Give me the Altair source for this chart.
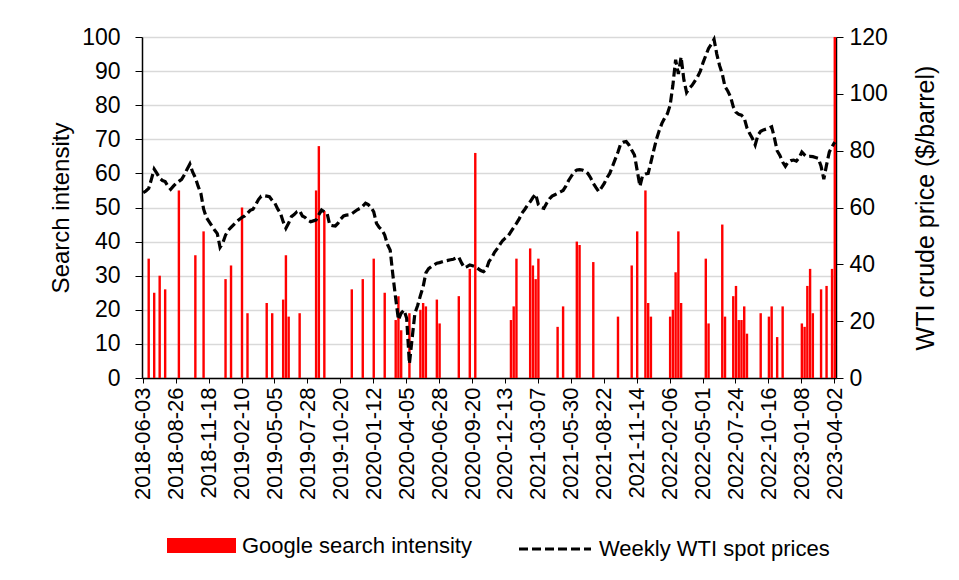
import altair as alt
import pandas as pd

# Weekly dates (Sunday-start weeks)
start_date = "2018-06-03"
n_weeks = 253

# Google search intensity: week offsets (from 2018-06-03) with non-zero values
search_week_idx = [2, 4, 6, 8, 13, 19, 22, 30, 32, 36, 38, 45, 47, 51, 52, 53, 57, 63, 64, 66,
                   76, 80, 84, 88, 92, 93, 94, 97, 101, 102, 103, 107, 108, 115, 119, 121,
                   134, 135, 136, 141, 142, 143, 144, 151, 153, 158, 159, 164, 173, 178, 180,
                   183, 184, 185, 192, 193, 194, 195, 196, 205, 206, 211, 212, 215, 216, 217,
                   218, 219, 220, 225, 228, 229, 231, 233, 240, 241, 242, 243, 244, 247, 249,
                   251, 252]
search_values = [35, 25, 30, 26, 55, 36, 43, 29, 33, 50, 19, 22, 19, 23, 36, 18, 19, 55, 68, 49,
                 26, 29, 35, 25, 17, 24, 14, 19, 20, 22, 21, 23, 16, 24, 32, 66,
                 17, 21, 35, 38, 33, 29, 35, 15, 21, 40, 39, 34, 18, 33, 43,
                 55, 22, 18, 18, 20, 31, 43, 22, 35, 16, 45, 18, 24, 27, 17,
                 17, 21, 13, 19, 18, 21, 12, 21, 16, 15, 27, 32, 19, 26, 27,
                 32, 100]

# Weekly WTI spot price ($/barrel)
wti_prices = [
    65.2, 65.8, 66.7, 70.0, 73.5, 72.0, 70.3, 69.5, 69.1, 67.5,
    66.4, 67.5, 68.5, 69.2, 69.9, 71.5, 73.5, 75.3, 72.5, 70.5,
    67.5, 65.0, 59.5, 56.5, 55.0, 53.5, 52.1, 50.8, 46.0, 47.5,
    50.3, 52.0, 53.0, 54.0, 55.0, 55.8, 56.5, 57.0, 58.0, 59.0,
    59.4, 61.0, 62.8, 64.0, 64.2, 64.0, 63.8, 62.5, 61.5, 59.5,
    58.0, 55.0, 52.7, 54.5, 56.8, 57.5, 58.5, 58.9, 57.0, 56.5,
    55.5, 55.0, 55.3, 55.6, 57.5, 59.1, 58.5, 58.0, 53.8, 53.6,
    53.5, 54.5, 56.0, 57.0, 57.3, 57.4, 57.8, 58.5, 59.2, 59.7,
    60.5, 61.5, 61.0, 60.0, 58.5, 54.4, 53.0, 52.1, 50.3, 47.0,
    45.0, 36.0, 28.0, 20.5, 22.8, 23.9, 21.0, 5.0, 14.0, 22.8,
    25.5, 29.0, 32.1, 37.0, 38.5, 39.2, 39.8, 40.4, 40.6, 40.9,
    41.2, 41.4, 41.6, 41.8, 42.2, 42.5, 40.5, 38.8, 39.2, 39.8,
    39.5, 39.2, 38.5, 37.8, 37.4, 38.2, 41.0, 42.3, 44.2, 45.5,
    47.0, 48.4, 49.3, 50.0, 51.5, 53.0, 54.4, 56.0, 58.0, 59.3,
    60.8, 62.0, 63.5, 64.7, 61.0, 60.0, 59.7, 61.5, 63.0, 64.0,
    64.5, 65.0, 65.5, 66.0, 67.5, 69.5, 71.0, 72.5, 73.2, 73.3,
    73.2, 72.8, 72.0, 70.5, 68.5, 67.0, 65.6, 67.0, 68.5, 70.5,
    72.0, 74.5, 77.0, 79.5, 82.5, 83.0, 83.2, 82.0, 80.2, 78.5,
    73.0, 67.5, 71.4, 71.8, 72.0, 76.0, 80.0, 84.0, 87.0, 89.6,
    91.5, 93.0, 96.0, 103.0, 112.0, 107.0, 113.0, 105.0, 100.5, 102.0,
    103.0, 104.5, 106.0, 108.0, 111.0, 113.5, 116.0, 117.5, 119.2, 114.0,
    110.0, 107.0, 102.5, 101.0, 99.0, 95.5, 93.5, 92.8, 92.5, 91.5,
    88.0, 86.0, 84.3, 82.0, 85.5, 86.8, 87.3, 87.6, 87.9, 88.4,
    84.5, 80.0, 78.3, 76.0, 74.5, 76.0, 76.5, 76.7, 76.3, 77.5,
    79.5, 78.5, 77.9, 78.0, 77.9, 77.6, 77.3, 74.5, 70.0, 75.0,
    79.5, 81.4, 83.0,
]

dates = pd.date_range(start_date, periods=n_weeks, freq="7D").strftime("%Y-%m-%d").tolist()
search_full = [0] * n_weeks
for i, v in zip(search_week_idx, search_values):
    search_full[i] = v

df = pd.DataFrame({
    "date": dates,
    "search": search_full,
    "wti": wti_prices,
    "s1": "Google search intensity",
    "s2": "Weekly WTI spot prices",
})

label_dates = dates[::12]
FONT = "Liberation Sans"
XLBL = 22
YLBL = 23
TTL = 24

x_enc = alt.X(
    "date:N",
    sort=None,
    scale=alt.Scale(domain=dates, paddingInner=0.12, paddingOuter=0),
    axis=alt.Axis(
        values=label_dates, labelAngle=270, title=None, labelFontSize=XLBL,
        labelColor="black", tickColor="black", domainColor="black",
        domainWidth=1.5, tickSize=5, labelPadding=4, grid=False,
    ),
)

bars = alt.Chart(df).mark_bar().encode(
    x=x_enc,
    y=alt.Y(
        "search:Q",
        scale=alt.Scale(domain=[0, 100], nice=False),
        axis=alt.Axis(
            values=list(range(0, 101, 10)), title="Search intensity",
            titleFontSize=TTL, titleFontWeight="normal", titleColor="black",
            labelFontSize=YLBL, labelColor="black", tickColor="black", tickSize=7,
            domainColor="black", domainWidth=1.5, labelPadding=15, titlePadding=8,
            grid=True, gridColor="#d9d9d9", gridWidth=1.5,
        ),
    ),
    color=alt.Color(
        "s1:N",
        scale=alt.Scale(domain=["Google search intensity"], range=["#ff0000"]),
        legend=alt.Legend(
            orient="none", legendX=25, legendY=474, title=None,
            symbolType="M-1,-0.22H1V0.22H-1Z", symbolSize=4761,
            symbolStrokeWidth=0, labelFontSize=XLBL, labelColor="black",
            labelOffset=6, labelLimit=0,
        ),
    ),
)

line = alt.Chart(df).mark_line(strokeWidth=3.2, strokeDash=[9, 4]).encode(
    x=x_enc,
    y=alt.Y(
        "wti:Q",
        scale=alt.Scale(domain=[0, 120], nice=False),
        axis=alt.Axis(
            orient="right", values=list(range(0, 121, 20)),
            title="WTI crude price ($/barrel)", titleAngle=270, titleBaseline="top",
            titleFontSize=25, titleFontWeight="normal", titleColor="black",
            labelFontSize=YLBL, labelColor="black", tickColor="black", tickSize=7,
            domainColor="black", domainWidth=1.5, labelPadding=6, titlePadding=26,
            grid=False,
        ),
    ),
    stroke=alt.Stroke(
        "s2:N",
        scale=alt.Scale(domain=["Weekly WTI spot prices"], range=["black"]),
        legend=alt.Legend(
            orient="none", legendX=375, legendY=474, title=None,
            symbolType="stroke", symbolSize=5184, symbolStrokeWidth=3.2,
            symbolDash=[9, 4], labelFontSize=XLBL, labelColor="black",
            labelOffset=6, labelLimit=0,
        ),
    ),
)

chart = (
    alt.layer(bars, line)
    .resolve_scale(y="independent")
    .properties(
        width=694, height=341,
        padding={"left": 134, "top": 29, "right": 115, "bottom": 190},
        autosize=alt.AutoSizeParams(type="none"),
        background="white",
    )
    .configure(font=FONT)
    .configure_view(stroke=None)
)

chart.save("out.html", embed_options={"renderer": "svg", "actions": False})
